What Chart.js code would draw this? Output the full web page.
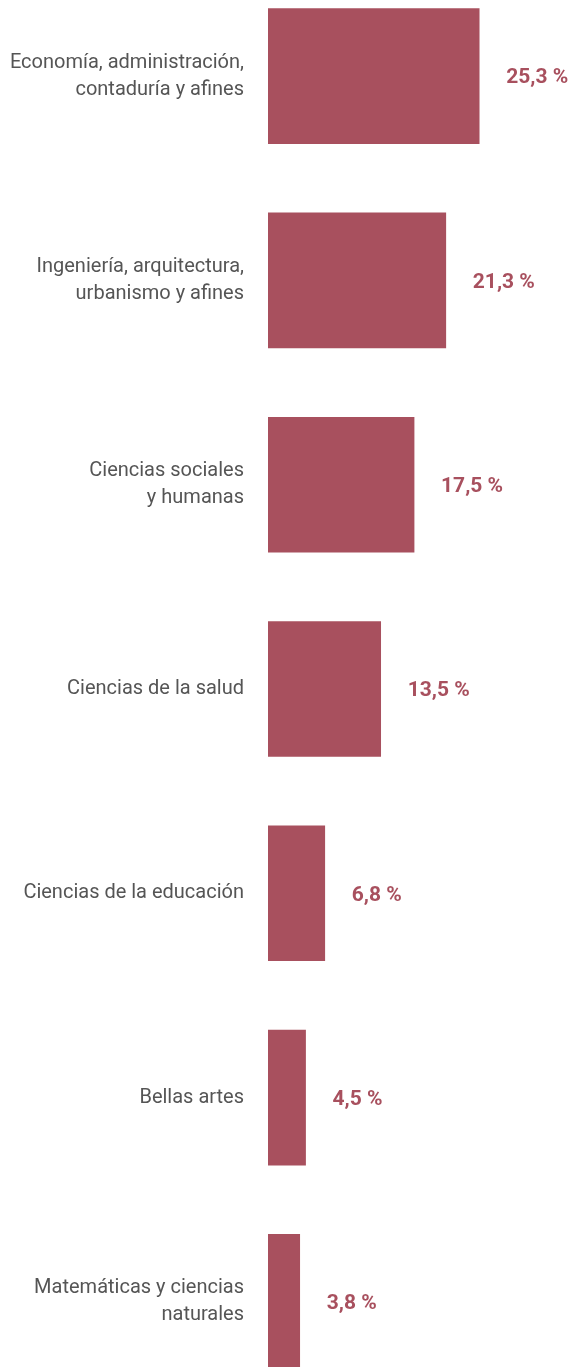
<!DOCTYPE html>
<html>
<head>
<meta charset="utf-8">
<script src="https://cdn.jsdelivr.net/npm/chart.js@4"></script>
<style>
  html, body { margin: 0; padding: 0; background: #ffffff; }
  #wrap { position: relative; width: 571px; height: 1367px; overflow: hidden; }
  #box { position: absolute; left: 0; top: -26px; width: 571px; height: 1430px; }
</style>
</head>
<body>
<div id="wrap">
  <div id="box"><canvas id="barCanvas"></canvas></div>
</div>
<script>
// Areas of study (left labels, line-broken as in the source)
const categories = [
    ['Economía, administración,', 'contaduría y afines'],
    ['Ingeniería, arquitectura,', 'urbanismo y afines'],
    ['Ciencias sociales', 'y humanas'],
    'Ciencias de la salud',
    'Ciencias de la educación',
    'Bellas artes',
    ['Matemáticas y ciencias', 'naturales']
];

// Share of graduates, percent
const shares = [25.3, 21.3, 17.5, 13.5, 6.8, 4.5, 3.8];

const barColor = '#a8505e';
const labelColor = '#555555';

// Writes "25,3 %" next to every bar
const valueLabels = {
    id: 'valueLabels',
    afterDatasetsDraw(chart) {
        const ctx = chart.ctx;
        const meta = chart.getDatasetMeta(0);
        ctx.save();
        ctx.fillStyle = barColor;
        ctx.font = 'bold 21px Roboto';
        ctx.textAlign = 'left';
        ctx.textBaseline = 'middle';
        meta.data.forEach((bar, i) => {
            const txt = shares[i].toFixed(1).replace('.', ',') + ' %';
            ctx.fillText(txt, bar.x + 27, bar.y + 2);
        });
        ctx.restore();
    }
};

const ctx = document.getElementById('barCanvas').getContext('2d');
new Chart(ctx, {
    type: 'bar',
    data: {
        labels: categories,
        datasets: [{
            data: shares,
            backgroundColor: barColor,
            borderWidth: 0,
            barThickness: 135
        }]
    },
    options: {
        indexAxis: 'y',
        responsive: true,
        maintainAspectRatio: false,
        animation: false,
        layout: { padding: 0 },
        plugins: {
            legend: { display: false },
            tooltip: { enabled: false }
        },
        scales: {
            x: {
                display: false,
                min: 0,
                max: 36.3
            },
            y: {
                afterFit(scale) {
                    // fixed axis width, and no extra room above/below for the labels
                    scale.width = 268;
                    scale.paddingTop = 0;
                    scale.paddingBottom = 0;
                },
                grid: { display: false, drawTicks: false },
                border: { display: false },
                ticks: {
                    padding: 24,
                    color: labelColor,
                    font: { family: 'Roboto', size: 20, lineHeight: 1.35 }
                }
            }
        }
    },
    plugins: [valueLabels]
});
</script>
</body>
</html>
